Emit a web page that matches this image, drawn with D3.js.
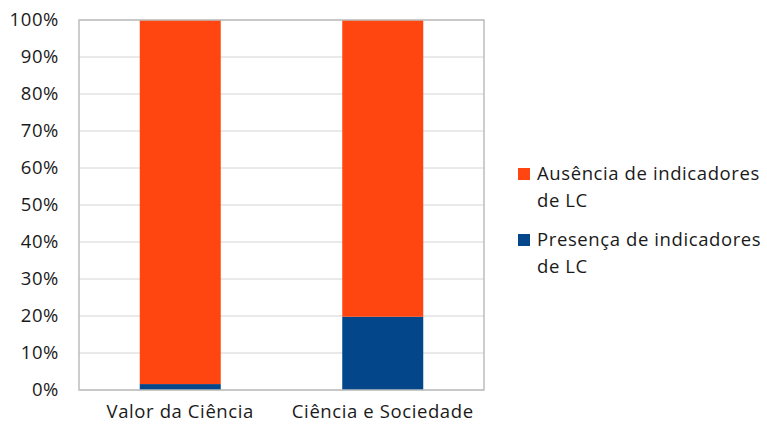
<!DOCTYPE html>
<html>
<head>
<meta charset="utf-8">
<script src="https://cdn.jsdelivr.net/npm/d3@7"></script>
<style>
  html, body { margin: 0; padding: 0; background: #fff; }
  svg { display: block; font-family: "Open Sans", sans-serif; }
</style>
</head>
<body>
<svg id="chart" width="767" height="426"></svg>
<script>
// Categories and stacked shares (percent)
const categories = ["Valor da Ciência", "Ciência e Sociedade"];
const presenca = [1.6, 19.8];
const ausencia = [98.4, 80.2];
const seriesNames = ["Presença de indicadores de LC", "Ausência de indicadores de LC"];
const seriesColors = ["#03468A", "#FF4510"];
const yTicks = [0, 10, 20, 30, 40, 50, 60, 70, 80, 90, 100];

const FONT = "'Open Sans', sans-serif";
const FS = 18.5;
const LS = 0.6;

const svg = d3.select("#chart");
const margin = { left: 79, right: 283, top: 20, bottom: 36 };
const W = 767, H = 426;
const plotW = W - margin.left - margin.right;
const plotH = H - margin.top - margin.bottom;

const g = svg.append("g").attr("transform", `translate(${margin.left},${margin.top})`);

const x = d3.scaleBand().domain(categories).range([0, plotW]).paddingInner(0.6).paddingOuter(0.3);
const y = d3.scaleLinear().domain([0, 100]).range([plotH, 0]);

// Gridlines
g.append("g").selectAll("line").data(yTicks).join("line")
  .attr("x1", 0).attr("x2", plotW)
  .attr("y1", d => y(d)).attr("y2", d => y(d))
  .attr("stroke", "#d4d4d4").attr("stroke-width", 1);

// Stack data
const rows = categories.map((c, i) => ({ cat: c, p: presenca[i], a: ausencia[i] }));
const stack = d3.stack().keys(["p", "a"])(rows);

g.append("g").selectAll("g").data(stack).join("g")
  .attr("fill", (d, i) => seriesColors[i])
  .selectAll("rect").data(d => d).join("rect")
  .attr("x", d => x(d.data.cat))
  .attr("width", x.bandwidth())
  .attr("y", d => y(d[1]))
  .attr("height", d => y(d[0]) - y(d[1]));

// Plot border
g.append("rect").attr("x", 0).attr("y", 0).attr("width", plotW).attr("height", plotH)
  .attr("fill", "none").attr("stroke", "#bdbdbd").attr("stroke-width", 1.5);

// Y axis labels
const yAxis = d3.axisLeft(y).tickValues(yTicks).tickFormat(d => d + "%").tickSize(0).tickPadding(20);
const ya = g.append("g").call(yAxis);
ya.select(".domain").remove();
ya.selectAll("text").attr("font-size", FS).attr("letter-spacing", LS)
  .attr("fill", "#1a1a1a").attr("font-family", FONT);

// X axis labels
const xAxis = d3.axisBottom(x).tickSize(0).tickPadding(15);
const xa = g.append("g").attr("transform", `translate(0,${plotH})`).call(xAxis);
xa.select(".domain").remove();
xa.selectAll("text").attr("font-size", FS).attr("letter-spacing", LS)
  .attr("fill", "#1a1a1a").attr("font-family", FONT);

// Legend (Ausência first, then Presença)
const legendItems = [
  { lines: ["Ausência de indicadores", "de LC"], color: seriesColors[1], y: 174 },
  { lines: ["Presença de indicadores", "de LC"], color: seriesColors[0], y: 240 }
];
const lg = svg.append("g");
legendItems.forEach(item => {
  lg.append("rect").attr("x", 518).attr("y", item.y - 6).attr("width", 12).attr("height", 12).attr("fill", item.color);
  item.lines.forEach((t, k) => {
    lg.append("text").attr("x", 537).attr("y", item.y + k * 27)
      .attr("dy", "0.35em").attr("font-size", FS).attr("letter-spacing", LS)
      .attr("fill", "#1a1a1a").attr("font-family", FONT).text(t);
  });
});
</script>
</body>
</html>
